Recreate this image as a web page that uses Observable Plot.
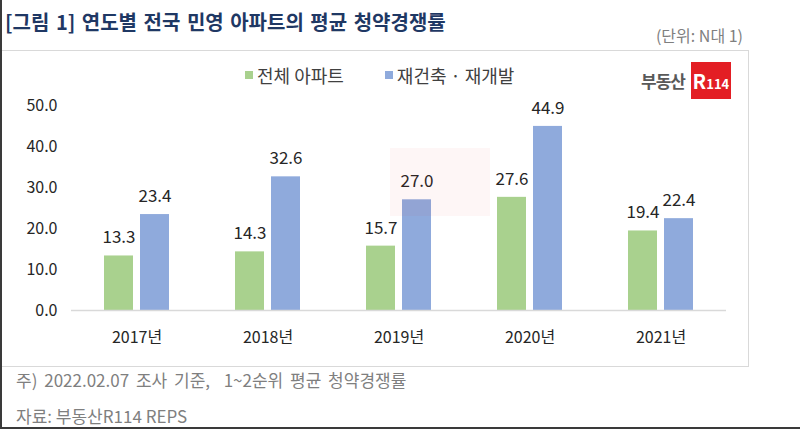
<!DOCTYPE html>
<html><head><meta charset="utf-8">
<script src="https://cdn.jsdelivr.net/npm/d3@7"></script>
<script src="https://cdn.jsdelivr.net/npm/@observablehq/plot@0.6"></script>
<style>
html,body{margin:0;padding:0;background:#fff;}
body{width:800px;height:429px;position:relative;overflow:hidden;font-family:"Noto Sans CJK KR","Noto Sans",sans-serif;}
.abs{position:absolute;white-space:nowrap;}
#frame{position:absolute;left:0;top:0;width:798px;height:427px;border-left:2px solid #3a3a3a;border-bottom:2px solid #3a3a3a;box-sizing:content-box;}
#box{position:absolute;left:2px;top:50px;width:746px;height:315px;border:1px solid #d9d9d9;border-left:none;}
#title{left:5px;top:10px;line-height:24px;font-size:20px;font-weight:bold;color:#1f3864;word-spacing:2px;}
#unit{right:57px;top:25px;line-height:20px;font-size:16px;color:#7f7f7f;}
#legend{left:245px;top:65px;line-height:20px;font-size:18px;color:#404040;display:flex;align-items:center;}
.item{display:inline-flex;align-items:center;}
.sw{display:inline-block;width:8px;height:8px;margin-right:4px;}
#logo{left:641px;top:62px;height:37px;}
#chart{position:absolute;left:0;top:90px;}
#note{left:16px;top:370px;line-height:20px;font-size:17px;color:#7f7f7f;word-spacing:3px;}
#src{left:16px;top:406px;line-height:20px;font-size:17px;color:#7f7f7f;}
#wm{position:absolute;left:390px;top:148px;width:100px;height:68px;background:rgba(230,40,50,0.045);pointer-events:none;}
</style></head>
<body>
<div id="frame"></div>
<div id="box"></div>
<div id="title" class="abs">[그림 1] 연도별 전국 민영 아파트의 평균 청약경쟁률</div>
<div id="unit" class="abs">(단위: N대 1)</div>
<div id="legend" class="abs"></div>
<div id="logo" class="abs"><span style="font-size:17px;font-weight:bold;color:#595959;vertical-align:middle;letter-spacing:-1px;">부동산</span><span style="display:inline-block;margin-left:6px;width:40px;height:37px;background:#e31e24;color:#fff;font-weight:bold;text-align:center;line-height:37px;vertical-align:middle;"><span style="font-size:20px;">R</span><span style="font-size:13px;">114</span></span></div>
<div id="chart"></div>
<div id="wm"></div>
<div id="note" class="abs">주) 2022.02.07 조사 기준,&nbsp;&nbsp;1~2순위 평균 청약경쟁률</div>
<div id="src" class="abs">자료: 부동산R114 REPS</div>
<script>
const years = ["2017년", "2018년", "2019년", "2020년", "2021년"];
const seriesNames = ["전체 아파트", "재건축 · 재개발"];
const allApt = [13.3, 14.3, 15.7, 27.6, 19.4];
const rebuild = [23.4, 32.6, 27.0, 44.9, 22.4];
const colors = ["#a9d18e", "#8faadc"];
const yTicks = [0, 10, 20, 30, 40, 50];

const data = [];
years.forEach((y, i) => {
  data.push({year: y, series: seriesNames[0], value: allApt[i]});
  data.push({year: y, series: seriesNames[1], value: rebuild[i]});
});

const legend = document.getElementById("legend");
legend.innerHTML = seriesNames.map((s, i) =>
  `<span class="item" style="margin-right:${i === 0 ? 41 : 0}px"><span class="sw" style="background:${colors[i]}"></span>${s}</span>`).join("");

const plot = Plot.plot({
  width: 748,
  height: 270,
  marginTop: 15,
  marginBottom: 50,
  marginLeft: 70,
  marginRight: 21,
  style: {fontFamily: '"Noto Sans CJK KR","Noto Sans",sans-serif', fontSize: "16px", color: "#262626", background: "transparent"},
  fx: {domain: years, padding: 0, label: null, axis: "bottom", tickSize: 0, tickPadding: 21, fontSize: 17},
  x: {domain: seriesNames, paddingInner: 0.19, paddingOuter: 0.87, axis: null},
  y: {domain: [0, 50], ticks: yTicks, tickFormat: d => d.toFixed(1), tickSize: 0, tickPadding: 14, label: null, line: false},
  color: {domain: seriesNames, range: colors},
  marks: [
    Plot.barY(data, {fx: "year", x: "series", y: "value", fill: "series"}),
    Plot.ruleY([0], {stroke: "#d9d9d9", strokeWidth: 1.5}),
    Plot.text(data, {fx: "year", x: "series", y: "value", text: d => d.value.toFixed(1), dy: -18, fontSize: 17, fill: "#262626"})
  ]
});
document.getElementById("chart").appendChild(plot);
</script>
</body></html>
